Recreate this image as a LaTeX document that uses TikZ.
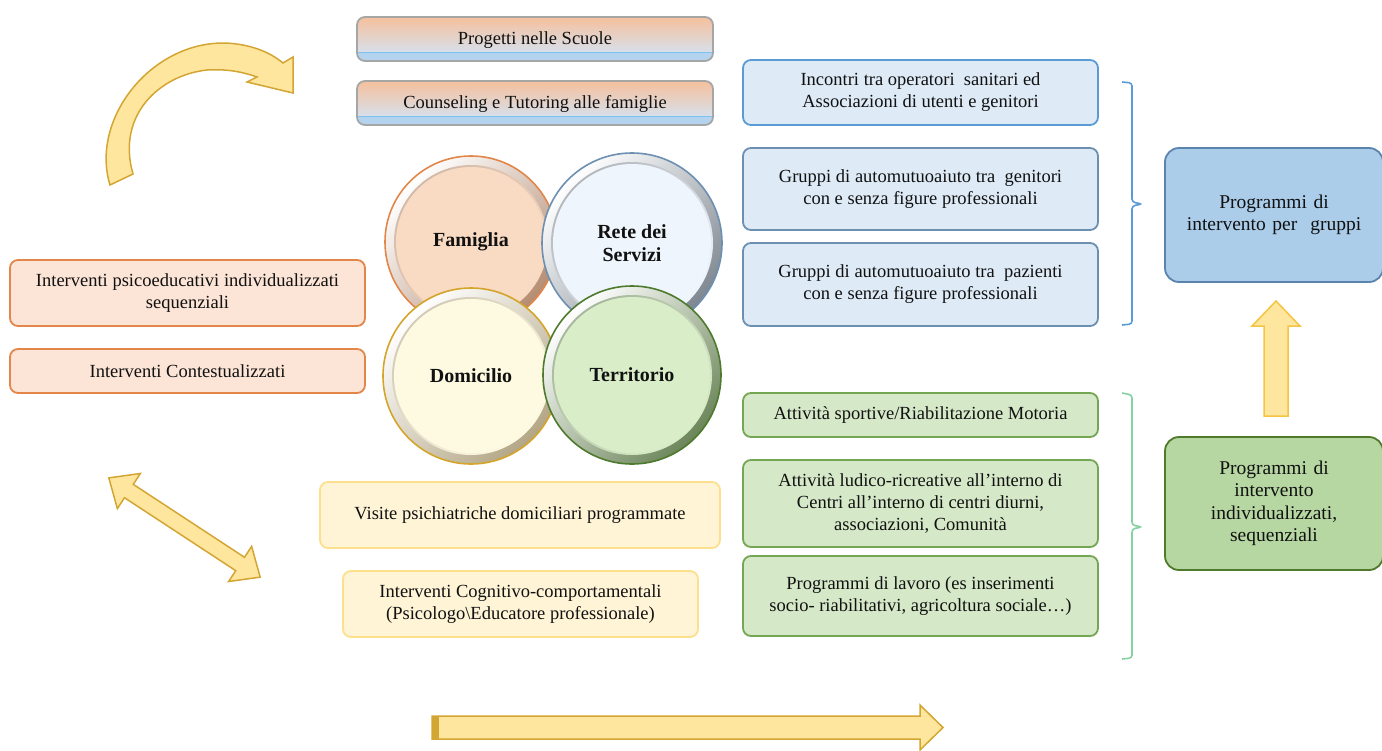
\documentclass[tikz,border=0pt]{standalone}
\usepackage{fontspec}
\setmainfont{Liberation Serif}
\definecolor{orgB}{HTML}{E2864A}
\definecolor{orgF}{HTML}{FCE4D6}
\definecolor{bluB}{HTML}{5B9BD5}
\definecolor{bluB2}{HTML}{6C8FB2}
\definecolor{bluF}{HTML}{DEEBF7}
\definecolor{grnB}{HTML}{74A653}
\definecolor{grnF}{HTML}{D5E8C8}
\definecolor{yelB}{HTML}{FCE08E}
\definecolor{yelF}{HTML}{FFF4D6}
\definecolor{arrF}{HTML}{FFE69E}
\definecolor{arrB}{HTML}{D3A633}
\definecolor{arrB2}{HTML}{F4C443}
\definecolor{bigBF}{HTML}{ABCDEA}
\definecolor{bigBB}{HTML}{5A84AE}
\definecolor{bigGF}{HTML}{B6D7A2}
\definecolor{bigGB}{HTML}{4F7A2C}
\definecolor{brGrn}{HTML}{86D2A4}
\definecolor{topO}{HTML}{F5C09C}
\definecolor{topM}{HTML}{D8DFEA}
\definecolor{topB}{HTML}{B3D3EE}
\definecolor{topL}{HTML}{7CC2EC}
\definecolor{txtc}{HTML}{111111}
\definecolor{famR}{HTML}{B48C72}
\definecolor{famF}{HTML}{F9DAC2}
\definecolor{retR}{HTML}{7E8790}
\definecolor{retF}{HTML}{EEF5FC}
\definecolor{domR}{HTML}{B3A685}
\definecolor{domF}{HTML}{FEFAE2}
\definecolor{domB}{HTML}{D4A52A}
\definecolor{terR}{HTML}{6B8559}
\definecolor{terF}{HTML}{D9EDC9}
\definecolor{terB}{HTML}{4E7A2D}
\newcommand\ballunit[8]{%
  \shade[top color=white, bottom color=#4, shading angle=45] (#1,#2) circle (#3);
  \shade[top color=#4!60!white, bottom color=#5, shading angle=45] (#1,#2) circle ({#3-9});
  \fill[#5] (#1,#2) circle ({#3-11});
  \draw[#6, line width=1.6pt] (#1,#2) circle (#3);
  \node[ball] (#7) at (#1,#2) {#8};
}
\begin{document}
\begin{tikzpicture}[x=1pt,y=-1pt,
  txt/.style={font=\fontsize{18.5}{22}\selectfont, align=center, text=txtc},
  box/.style={txt, rounded corners=8pt, line width=1.8pt, inner sep=0pt},
  ball/.style={font=\fontsize{20}{23}\selectfont\bfseries, align=center, text=txtc},
  bigbox/.style={txt, font=\fontsize{19.5}{22.5}\selectfont, rounded corners=14pt, line width=1.8pt, inner sep=0pt, minimum width=218pt, text width=200pt},
  fat/.style={fill=arrF, draw=arrB, line width=1.5pt, line join=miter},
  brace/.style={line width=1.6pt, rounded corners=3pt}
]
\useasboundingbox (0,0) rectangle (1382,750);

% curved arrow
\draw[fat] (110,185) .. controls (90,120) and (150,42) .. (225,43)
  .. controls (250,44) and (270,52) .. (283,63) -- (293,57) -- (293,93) -- (247,82) -- (257,77)
  .. controls (240,71) and (225,69) .. (207,70)
  .. controls (160,75) and (116,115) .. (133,174) -- cycle;

% top gradient boxes
\foreach \cy/\nm/\tx in {39/tp1/Progetti nelle Scuole, 103/tp2/Counseling e Tutoring alle famiglie}{
  \begin{scope}
    \clip[rounded corners=8pt] (357,\cy-22) rectangle (713,\cy+22);
    \shade[top color=topO, bottom color=topM] (357,\cy-22) rectangle (713,\cy+13);
    \fill[topB] (357,\cy+13) rectangle (713,\cy+22);
    \draw[topL, line width=1pt] (357,\cy+13) -- (713,\cy+13);
  \end{scope}
  \draw[gray!70, line width=1.8pt, rounded corners=8pt] (357,\cy-22) rectangle (713,\cy+22);
  \node[txt] (\nm) at (535,\cy+1) {\tx};
}

% left boxes
\node[box, draw=orgB, fill=orgF, minimum width=355pt, minimum height=66pt] (l1) at (187.5,293) {Interventi psicoeducativi individualizzati\\sequenziali};
\node[box, draw=orgB, fill=orgF, minimum width=355pt, minimum height=44pt] (l2) at (187.5,371) {Interventi Contestualizzati};

% circles
\ballunit{471}{242}{86}{famR}{famF}{orgB}{fam}{Famiglia}
\ballunit{632}{243}{90}{retR}{retF}{bluB2}{ret}{Rete dei\\Servizi}
\ballunit{471}{376}{88}{domR}{domF}{domB}{dom}{Domicilio}
\ballunit{632}{375}{89}{terR}{terF}{terB}{ter}{Territorio}

% blue boxes
\node[box, draw=bluB, fill=bluF, minimum width=355pt, minimum height=65pt] (b1) at (920.5,92.5) {Incontri tra operatori\ \ sanitari ed\\Associazioni di utenti e genitori};
\node[box, draw=bluB2, fill=bluF, minimum width=355pt, minimum height=82pt] (b2) at (920.5,189) {Gruppi di automutuoaiuto tra\ \ genitori\\con e senza figure professionali};
\node[box, draw=bluB2, fill=bluF, minimum width=355pt, minimum height=83pt] (b3) at (920.5,284.5) {Gruppi di automutuoaiuto tra\ \ pazienti\\con e senza figure professionali};

% green boxes
\node[box, draw=grnB, fill=grnF, minimum width=355pt, minimum height=44pt] (g1) at (920.5,415) {Attività sportive/Riabilitazione Motoria};
\node[box, draw=grnB, fill=grnF, minimum width=355pt, minimum height=87pt] (g2) at (920.5,503.5) {Attività ludico-ricreative all’interno di\\Centri all’interno di centri diurni,\\associazioni, Comunità};
\node[box, draw=grnB, fill=grnF, minimum width=355pt, minimum height=80pt] (g3) at (920.5,596) {Programmi di lavoro (es inserimenti\\socio- riabilitativi, agricoltura sociale…)};

% yellow boxes
\node[box, draw=yelB, fill=yelF, minimum width=400pt, minimum height=66pt] (y1) at (520,515) {Visite psichiatriche domiciliari programmate};
\node[box, draw=yelB, fill=yelF, minimum width=355pt, minimum height=66pt] (y2) at (520.5,604) {Interventi Cognitivo-comportamentali\\(Psicologo\textbackslash Educatore professionale)};

% braces
\draw[brace, bluB] (1122,82) -- (1132,83) -- (1132,202) -- (1142,204) -- (1132,206) -- (1132,324) -- (1122,325);
\draw[brace, brGrn] (1122,393) -- (1132,395) -- (1132,525) -- (1142,527) -- (1132,529) -- (1132,658) -- (1122,659);

% big boxes
\node[bigbox, draw=bigBB, fill=bigBF, minimum height=134pt] (pg) at (1274,215) {Programmi di\\intervento per\ \ gruppi};
\node[bigbox, draw=bigGB, fill=bigGF, minimum height=133pt] (pi) at (1274,503.5) {Programmi di\\intervento\\individualizzati,\\sequenziali};

% up arrow
\draw[fat, draw=arrB2] (1264,416) -- (1264,326) -- (1252,326) -- (1276,301) -- (1300,326) -- (1288,326) -- (1288,416) -- cycle;

% double arrow
\begin{scope}[shift={(184.5,527.5)}, rotate=-33.25]
\draw[fat] (-90.5,0) -- (-66.5,21) -- (-66.5,8) -- (66.5,8) -- (66.5,21) -- (90.5,0) -- (66.5,-21) -- (66.5,-8) -- (-66.5,-8) -- (-66.5,-21) -- cycle;
\end{scope}

% bottom arrow
\draw[fat] (432,716) -- (920,716) -- (920,705) -- (943,727.5) -- (920,750) -- (920,739) -- (432,739) -- cycle;
\fill[arrB] (432,716) rectangle (439,739);
\end{tikzpicture}
\end{document}
